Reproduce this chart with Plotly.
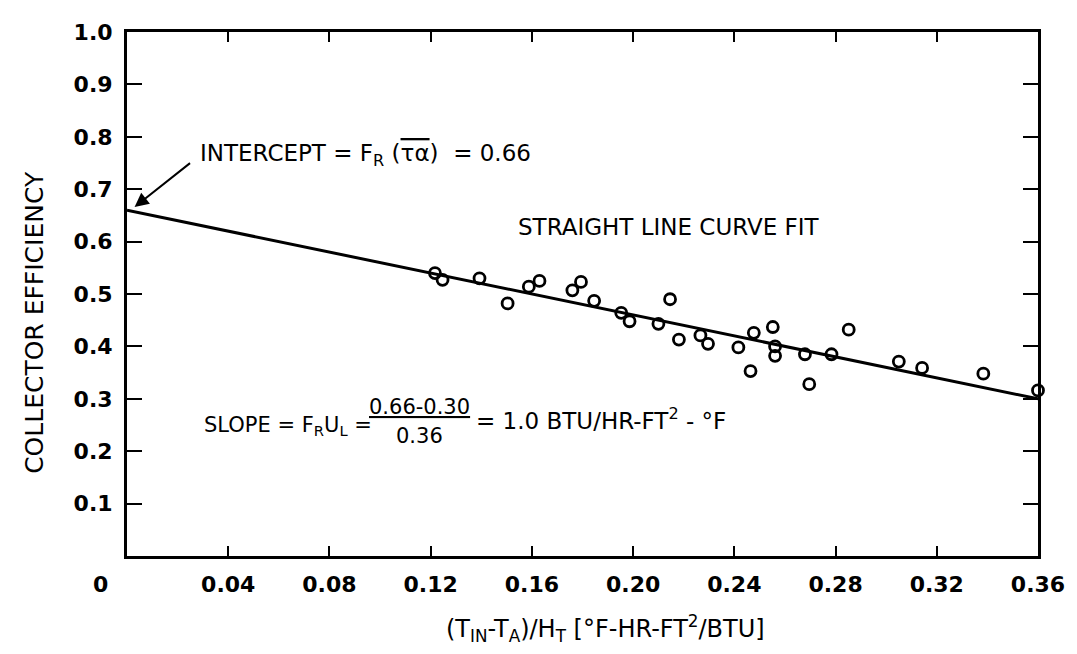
import plotly.graph_objects as go

# ---- data ----
eff_x = [0.1217, 0.1247, 0.1393, 0.1504, 0.1588, 0.1630, 0.1760, 0.1794, 0.1846, 0.1953,
         0.1986, 0.2100, 0.2146, 0.2181, 0.2266, 0.2296, 0.2416, 0.2464, 0.2477, 0.2552,
         0.2561, 0.2561, 0.2679, 0.2696, 0.2784, 0.2852, 0.3050, 0.3142, 0.3384, 0.3600]
eff_y = [0.540, 0.527, 0.530, 0.482, 0.514, 0.525, 0.507, 0.523, 0.487, 0.464,
         0.448, 0.443, 0.490, 0.413, 0.421, 0.405, 0.398, 0.353, 0.426, 0.437,
         0.400, 0.382, 0.385, 0.328, 0.385, 0.432, 0.371, 0.359, 0.348, 0.316]

fit_x = [0.0, 0.36]
fit_y = [0.66, 0.30]

x_tickvals = [0.04, 0.08, 0.12, 0.16, 0.20, 0.24, 0.28, 0.32, 0.36]
x_ticktext = ["0.04", "0.08", "0.12", "0.16", "0.20", "0.24", "0.28", "0.32", "0.36"]
y_tickvals = [0.1, 0.2, 0.3, 0.4, 0.5, 0.6, 0.7, 0.8, 0.9, 1.0]
y_ticktext = ["0.1", "0.2", "0.3", "0.4", "0.5", "0.6", "0.7", "0.8", "0.9", "1.0"]

FONT = "DejaVu Sans, sans-serif"

fig = go.Figure()
fig.add_trace(go.Scatter(x=fit_x, y=fit_y, mode="lines",
                         line=dict(color="black", width=3), showlegend=False,
                         cliponaxis=False))
fig.add_trace(go.Scatter(x=eff_x, y=eff_y, mode="markers",
                         marker=dict(symbol="circle-open", size=11, color="black",
                                     line=dict(width=2.8, color="black")),
                         showlegend=False, cliponaxis=False))

axis_common = dict(showline=True, linecolor="black", linewidth=3, mirror="ticks",
                   ticks="inside", tickcolor="black", tickwidth=2,
                   showgrid=False, zeroline=False,
                   tickfont=dict(family=FONT, size=22, color="black", weight="bold"))

fig.update_xaxes(range=[0, 0.36], tickvals=x_tickvals, ticktext=x_ticktext,
                 ticklen=10, ticklabelstandoff=7, **axis_common)
fig.update_yaxes(range=[0, 1.0], tickvals=y_tickvals, ticktext=y_ticktext,
                 ticklen=15, ticklabelstandoff=7, **axis_common)

# screen-pixel frame of the plot area (page body has an 8px margin)
OFF = 8
W, H = 1077 - OFF, 654 - OFF
L, R, T, B = 127, 1046, 23, 556
def px(xp):
    return (xp - L) / (R - L)
def py(yp):
    return (B - yp) / (B - T)

tfont = dict(family=FONT, size=23, color="black")
ann = []
# origin label
ann.append(dict(text="0", xref="paper", yref="paper", x=px(100), y=py(585),
                showarrow=False, xanchor="center", yanchor="middle",
                font=dict(family=FONT, size=22, color="black", weight="bold")))
# axis titles
ann.append(dict(text="(T<sub>IN</sub>-T<sub>A</sub>)/H<sub>T</sub> [°F-HR-FT<sup>2</sup>/BTU]",
                xref="paper", yref="paper", x=px(610), y=py(630), showarrow=False,
                xanchor="center", yanchor="middle",
                font=dict(family=FONT, size=24, color="black")))
ann.append(dict(text="COLLECTOR EFFICIENCY", xref="paper", yref="paper",
                x=px(33), y=py(318), showarrow=False, textangle=-90,
                xanchor="center", yanchor="middle",
                font=dict(family=FONT, size=25, color="black")))
# intercept text and arrow
ann.append(dict(text='INTERCEPT = F<sub>R</sub> (<span style="text-decoration:overline">τα</span>)  = 0.66',
                xref="paper", yref="paper", x=px(199), y=py(148), showarrow=False,
                xanchor="left", yanchor="middle", font=tfont))
ann.append(dict(text="", x=0.003, y=0.666, xref="x", yref="y",
                ax=0.0255, ay=0.752, axref="x", ayref="y",
                showarrow=True, arrowhead=2, arrowsize=1.4, arrowwidth=2,
                arrowcolor="black"))
ann.append(dict(text="STRAIGHT LINE CURVE FIT", xref="paper", yref="paper",
                x=px(519), y=py(221), showarrow=False, xanchor="left",
                yanchor="middle", font=tfont))
# slope text
ann.append(dict(text="SLOPE = F<sub>R</sub>U<sub>L</sub> =", xref="paper", yref="paper",
                x=px(203), y=py(424), showarrow=False, xanchor="left",
                yanchor="middle", font=dict(family=FONT, size=21, color="black")))
ann.append(dict(text="<u>0.66-0.30</u>", xref="paper", yref="paper",
                x=px(422), y=py(404), showarrow=False, xanchor="center",
                yanchor="middle", font=dict(family=FONT, size=21, color="black")))
ann.append(dict(text="0.36", xref="paper", yref="paper",
                x=px(422), y=py(434), showarrow=False, xanchor="center",
                yanchor="middle", font=dict(family=FONT, size=21, color="black")))
ann.append(dict(text="= 1.0 BTU/HR-FT<sup>2</sup> - °F", xref="paper", yref="paper",
                x=px(477), y=py(417), showarrow=False, xanchor="left",
                yanchor="middle", font=dict(family=FONT, size=23, color="black")))

fig.update_layout(width=W, height=H, autosize=False,
                  margin=dict(l=L - OFF, r=W - (R - OFF), t=T - OFF, b=H - (B - OFF)),
                  paper_bgcolor="white", plot_bgcolor="white",
                  annotations=ann, showlegend=False)

fig.write_html("out.html")
